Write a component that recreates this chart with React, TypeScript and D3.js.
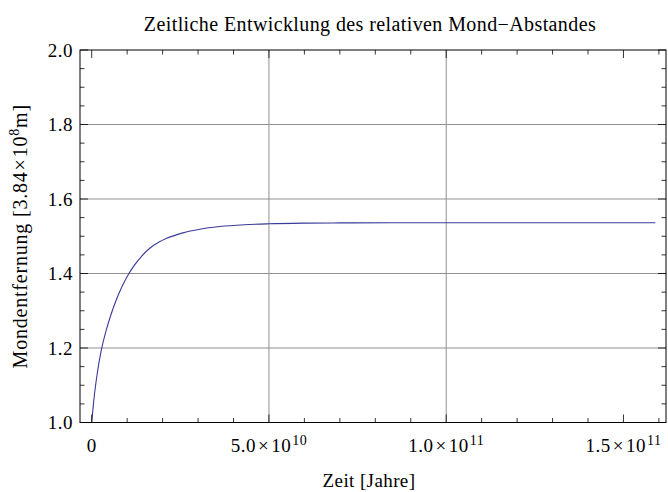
import React from "react";
import * as d3 from "d3";

const title = "Zeitliche Entwicklung des relativen Mond\u2212Abstandes";
const xLabel = "Zeit [Jahre]";

// time in years, relative distance
const timeYears = [0, 0.056e10, 0.15e10, 0.27e10, 0.4e10, 0.536e10, 0.7e10, 0.85e10, 1.03e10, 1.2e10, 1.4e10, 1.63e10, 1.9e10, 2.1e10, 2.57e10, 3.05e10, 3.61e10, 4.3e10, 5e10, 6e10, 7e10, 8.5e10, 10e10, 12e10, 14e10, 15.9e10];
const distance = [1.0, 1.0568, 1.1276, 1.1935, 1.2444, 1.2873, 1.3308, 1.3638, 1.3966, 1.4217, 1.4456, 1.467, 1.4844, 1.4938, 1.5091, 1.519, 1.5261, 1.531, 1.5335, 1.5352, 1.5358, 1.5361, 1.5362, 1.5362, 1.5362, 1.5362];

const yTicks = [1.0, 1.2, 1.4, 1.6, 1.8, 2.0];
const yTickLabels = ["1.0", "1.2", "1.4", "1.6", "1.8", "2.0"];
const xMajorTicks = [0, 5e10, 10e10, 15e10];
const xTickMantissa = ["0", "5.0", "1.0", "1.5"];
const xTickExponent = ["", "10", "11", "11"];
const xGrid = [5e10, 10e10];
const yGrid = [1.2, 1.4, 1.6, 1.8];

const W = 668, H = 492;
const L = 80, R = 666, T = 50, B = 422.5;

export default function App() {
  const x = d3.scaleLinear().domain([-0.33e10, 16.2e10]).range([L, R]);
  const y = d3.scaleLinear().domain([1, 2]).range([B, T]);
  const pts = timeYears.map((t, i) => [t, distance[i]] as [number, number]);
  const line = d3.line<[number, number]>().x(d => x(d[0])).y(d => y(d[1])).curve(d3.curveMonotoneX);

  const xMinor = d3.range(0, 16.01e10, 1e10);
  const yMinor = d3.range(1, 2.001, 0.05);
  const isMajorX = (v: number) => Math.abs(v / 5e10 - Math.round(v / 5e10)) < 1e-6;
  const isMajorY = (v: number) => Math.abs(v / 0.2 - Math.round(v / 0.2)) < 1e-6;
  const font = "'Liberation Serif', 'Times New Roman', serif";
  const tickCol = "#000";

  return (
    <svg width={W} height={H} style={{ position: "absolute", left: 0, top: 0, background: "#fff" }} fontFamily={font}>
      <rect x={0} y={0} width={W} height={H} fill="#fff" />
      {/* grid */}
      {yGrid.map(v => (
        <line key={"gy" + v} x1={L} x2={R} y1={y(v)} y2={y(v)} stroke="#909090" strokeWidth={1} />
      ))}
      {xGrid.map(v => (
        <line key={"gx" + v} x1={x(v)} x2={x(v)} y1={T} y2={B} stroke="#909090" strokeWidth={1} />
      ))}
      {/* curve */}
      <path d={line(pts) || ""} fill="none" stroke="#3a3a9a" strokeWidth={1.1} />
      {/* ticks */}
      {xMinor.map(v => {
        const len = isMajorX(v) ? 8 : 4.5;
        return (
          <g key={"tx" + v}>
            <line x1={x(v)} x2={x(v)} y1={B} y2={B - len} stroke={tickCol} strokeWidth={0.8} />
            <line x1={x(v)} x2={x(v)} y1={T} y2={T + len} stroke={tickCol} strokeWidth={0.8} />
          </g>
        );
      })}
      {yMinor.map(v => {
        const len = isMajorY(v) ? 8 : 4.5;
        return (
          <g key={"ty" + v}>
            <line x1={L} x2={L + len} y1={y(v)} y2={y(v)} stroke={tickCol} strokeWidth={0.8} />
            <line x1={R} x2={R - len} y1={y(v)} y2={y(v)} stroke={tickCol} strokeWidth={0.8} />
          </g>
        );
      })}
      {/* frame */}
      <rect x={L} y={T} width={R - L} height={B - T} fill="none" stroke="#000" strokeWidth={1} />
      {/* y tick labels */}
      {yTicks.map((v, i) => (
        <text key={"yl" + v} x={L - 7} y={y(v)} dy="0.35em" textAnchor="end" fontSize={19} letterSpacing={0.5}>{yTickLabels[i]}</text>
      ))}
      {/* x tick labels */}
      {xMajorTicks.map((v, i) => (
        <text key={"xl" + v} x={x(v)} y={452} textAnchor="middle" fontSize={19} letterSpacing={0.5}>
          {xTickExponent[i] ? (
            <>
              <tspan>{xTickMantissa[i]}</tspan>
              <tspan dx={2}>{"\u00d7"}</tspan>
              <tspan dx={2}>10</tspan>
              <tspan fontSize={14} dx={1} dy={-7}>{xTickExponent[i]}</tspan>
            </>
          ) : (
            xTickMantissa[i]
          )}
        </text>
      ))}
      {/* title */}
      <text x={370} y={31} textAnchor="middle" fontSize={20} letterSpacing={0.4}>{title}</text>
      {/* x label */}
      <text x={369} y={487} textAnchor="middle" fontSize={19} letterSpacing={0.4}>{xLabel}</text>
      {/* y label */}
      <text transform={`translate(27,${(T + B) / 2}) rotate(-90)`} textAnchor="middle" fontSize={20} letterSpacing={0.8}>
        <tspan>{"Mondentfernung [3.84"}</tspan>
        <tspan dx={1}>{"\u00d7"}</tspan>
        <tspan dx={1}>10</tspan>
        <tspan fontSize={14} dy={-8}>8</tspan>
        <tspan dy={8}>m]</tspan>
      </text>
    </svg>
  );
}
